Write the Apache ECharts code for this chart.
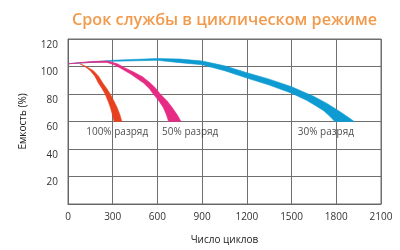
<!DOCTYPE html>
<html>
<head>
<meta charset="utf-8">
<script src="https://cdn.jsdelivr.net/npm/echarts@6/dist/echarts.min.js"></script>
<style>
  html, body { margin: 0; padding: 0; background: #fff; }
  #chart { width: 400px; height: 250px; }
</style>
</head>
<body>
<div id="chart"></div>
<script>
// ticks
var xTicks = [0, 300, 600, 900, 1200, 1500, 1800, 2100];
var yTicks = [0, 20, 40, 60, 80, 100, 120];

// bands: [cycles, capacity %] for outer and inner edge
var redOuter = [[80, 102], [130, 99.5], [170, 97], [205, 93], [233, 88], [260, 84], [283, 80], [310, 74.5], [330, 70], [348, 65], [361, 60]];
var redInner = [[80, 102], [120, 99.5], [150, 97], [180, 93], [204, 88], [228, 84], [249, 80], [270, 74.5], [285, 70], [298, 65], [309, 60]];

var pinkOuter = [[0, 102], [150, 103.6], [260, 104], [330, 102], [383, 99], [440, 96], [500, 92.5], [552, 88], [590, 84], [619, 80], [665, 75], [700, 70], [735, 64.5], [758, 60]];
var pinkInner = [[0, 102], [150, 103], [260, 103], [310, 101.3], [350, 99], [420, 94.5], [507, 88], [545, 84], [572, 80], [610, 75], [640, 70], [660, 65], [675, 60]];

var blueOuter = [[0, 102], [300, 104.5], [600, 105.8], [750, 105.4], [900, 104], [1050, 100.5], [1200, 95.5], [1350, 90.8], [1500, 85.3], [1650, 78.2], [1740, 73], [1818, 67.6], [1875, 63.5], [1920, 60]];
var blueInner = [[0, 102], [300, 103.8], [600, 104.5], [750, 102.8], [900, 101.3], [1050, 97], [1200, 91.6], [1350, 86.5], [1500, 80.6], [1600, 75.5], [1670, 71], [1718, 67.6], [1760, 63.5], [1790, 60]];

var bandNames = ['100% разряд', '50% разряд', '30% разряд'];
var labelPos = [[330, 52], [820, 52], [1730, 52]];

function bandSeries(name, outer, inner, color) {
  return {
    name: name,
    type: 'custom',
    silent: true,
    z: 3,
    data: [[0, 0]],
    renderItem: function (params, api) {
      var pts = [];
      for (var i = 0; i < outer.length; i++) pts.push(api.coord(outer[i]));
      for (var j = inner.length - 1; j >= 0; j--) pts.push(api.coord(inner[j]));
      return {
        type: 'polygon',
        shape: { points: pts },
        style: { fill: color, stroke: color, lineWidth: 0.6 }
      };
    }
  };
}

var gridColor = '#6f6f6f';

var myChart = echarts.init(document.getElementById('chart'));
var option = {
  animation: false,
  title: {
    text: 'Срок службы в циклическом режиме',
    left: 67,
    top: 7,
    textStyle: {
      fontFamily: 'Open Sans',
      fontWeight: 600,
      fontSize: 16.2,
      color: '#f29a4c'
    }
  },
  grid: { left: 68, right: 19, top: 39, bottom: 41, show: true, borderColor: gridColor, borderWidth: 1, backgroundColor: 'transparent' },
  xAxis: {
    type: 'value',
    min: xTicks[0],
    max: xTicks[xTicks.length - 1],
    interval: 300,
    name: 'Число циклов',
    nameLocation: 'middle',
    nameGap: 31,
    nameTextStyle: { fontFamily: 'Open Sans', fontSize: 10, color: '#222' },
    axisLine: { show: true, lineStyle: { color: '#666', width: 1 } },
    axisTick: { show: true, length: 0 },
    axisLabel: { fontFamily: 'Open Sans', fontSize: 10, color: '#333', margin: 8, formatter: function (v) { return String(v); } },
    splitLine: { show: true, lineStyle: { color: gridColor, width: 1, type: 'solid', opacity: 1 } }
  },
  yAxis: {
    type: 'value',
    min: yTicks[0],
    max: yTicks[yTicks.length - 1],
    interval: 20,
    name: 'Емкость (%)',
    nameLocation: 'middle',
    nameGap: 40,
    nameTextStyle: { fontFamily: 'Open Sans', fontSize: 10, color: '#222' },
    axisLine: { show: true, lineStyle: { color: '#666', width: 1 } },
    axisTick: { show: true, length: 0 },
    axisLabel: { fontFamily: 'Open Sans', fontSize: 10, color: '#333', margin: 10, showMinLabel: false, verticalAlign: 'top', lineHeight: 12 },
    splitLine: { show: true, lineStyle: { color: gridColor, width: 1, type: 'solid', opacity: 1 } }
  },
  series: [
    bandSeries(bandNames[2], blueOuter, blueInner, '#0e9bd2'),
    bandSeries(bandNames[1], pinkOuter, pinkInner, '#e52b84'),
    bandSeries(bandNames[0], redOuter, redInner, '#e8411f'),
    {
      type: 'scatter',
      silent: true,
      symbolSize: 0,
      data: labelPos.map(function (p, i) { return { value: p, name: bandNames[i] }; }),
      label: {
        show: true,
        position: 'inside',
        formatter: '{b}',
        fontFamily: 'Open Sans',
        fontSize: 10,
        color: '#222'
      }
    }
  ]
};
myChart.setOption(option);
</script>
</body>
</html>
